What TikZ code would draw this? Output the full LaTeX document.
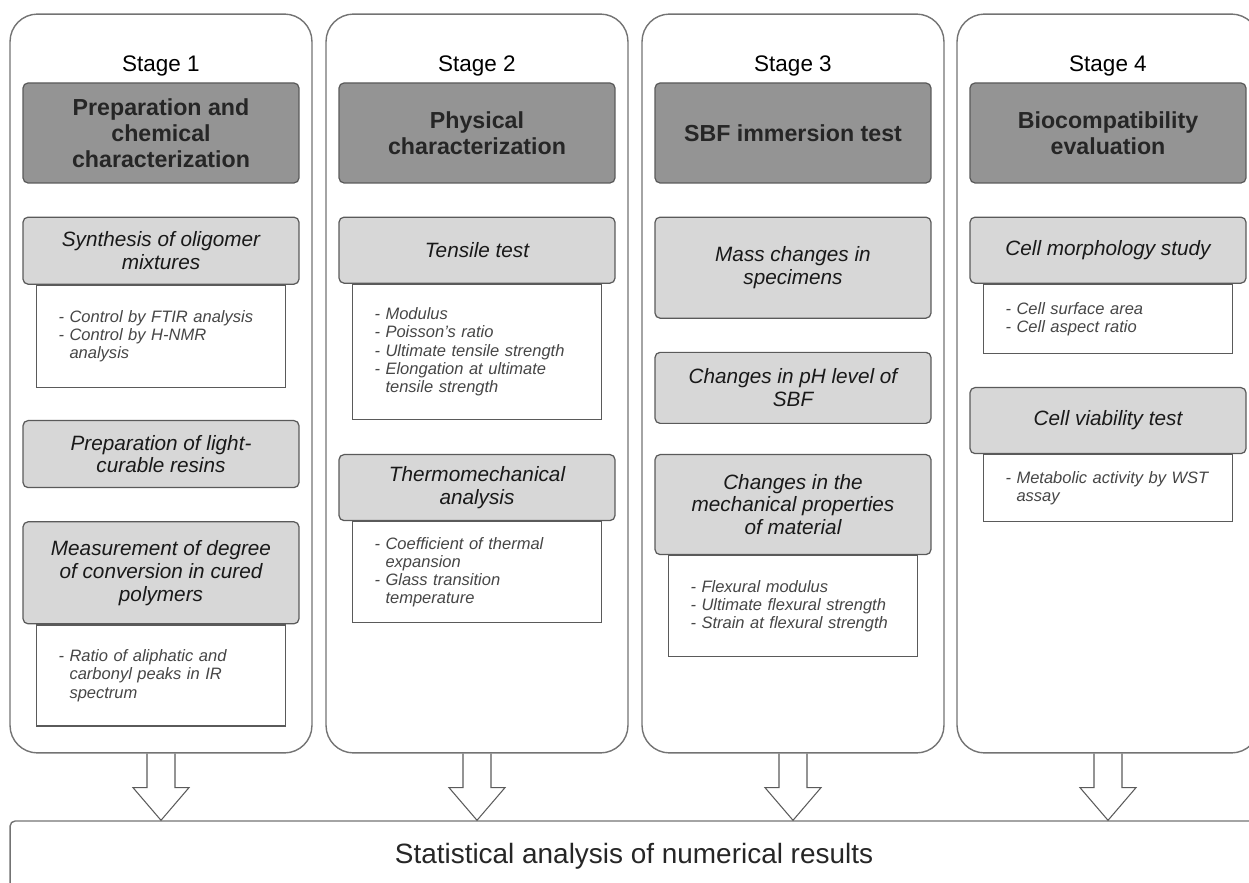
\documentclass[tikz,border=0pt]{standalone}
\usepackage{fontspec}
\setmainfont{Liberation Sans}
\usepackage{xcolor}
\usepackage{tikz}
\usetikzlibrary{positioning,calc}

\definecolor{headgray}{RGB}{148,148,148}
\definecolor{subgray}{RGB}{215,215,215}
\definecolor{linegray}{RGB}{90,90,90}
\definecolor{colgray}{RGB}{115,115,115}
\definecolor{notegray}{RGB}{70,70,70}

\begin{document}
\begin{tikzpicture}[
    x=0.02cm, y=-0.02cm,
    node distance=0.66cm,
    stagecol/.style={rectangle, draw=colgray, line width=0.8pt, rounded corners=0.55cm, minimum width=6.04cm, minimum height=14.78cm},
    stagelabel/.style={anchor=base, inner sep=0pt, font=\fontsize{12.8}{15}\selectfont},
    headbox/.style={rectangle, draw=linegray, line width=0.7pt, fill=headgray, rounded corners=0.1cm, minimum width=5.52cm, minimum height=2cm, align=center, text=black!85, font=\fontsize{13.2}{14.7}\selectfont\bfseries},
    testbox/.style={rectangle, draw=linegray, line width=0.7pt, fill=subgray, rounded corners=0.1cm, minimum width=5.52cm, minimum height=1.32cm, align=center, text=black!90, font=\fontsize{11.8}{13}\selectfont\itshape},
    notebox/.style={rectangle, draw=linegray, line width=0.7pt, fill=white, minimum width=4.98cm, text width=4.1cm, inner xsep=0.44cm, align=left, text=notegray, font=\fontsize{9.4}{10.4}\selectfont\itshape},
    statbox/.style={rectangle, draw=colgray, line width=0.8pt, rounded corners=0.1cm, minimum width=24.96cm, minimum height=1.4cm, text=black!85, font=\fontsize{15.9}{19}\selectfont},
    blockarrow/.style={draw=linegray, line width=0.6pt, line join=miter}
]
\useasboundingbox (0,0) rectangle (1249,883);
\clip (0,0) rectangle (1249,883);

% stage columns
\node[stagecol] (c1) at (161,383.5) {};
\node[stagecol] (c2) at (477,383.5) {};
\node[stagecol] (c3) at (793,383.5) {};
\node[stagecol] (c4) at (1108,383.5) {};

% stage 1
\node[headbox, below=1.38cm of c1.north] (h1) {Preparation and\\chemical\\characterization};
\node[stagelabel] (l1) at ($(h1.north)+(0,-11)$) {Stage 1};
\node[testbox, below=of h1, minimum height=1.34cm] (syn) {Synthesis of oligomer\\mixtures};
\node[notebox, below=0pt of syn, minimum height=2.04cm] (syn-n) {- Control by FTIR analysis\\- Control by H-NMR\\\phantom{- }analysis};
\node[testbox, below=0.64cm of syn-n, minimum height=1.34cm] (res) {Preparation of light-\\curable resins};
\node[testbox, below=of res, minimum height=2.04cm] (doc) {Measurement of degree\\of conversion in cured\\polymers};
\node[notebox, below=0pt of doc, minimum height=2.02cm] (doc-n) {- Ratio of aliphatic and\\\phantom{- }carbonyl peaks in IR\\\phantom{- }spectrum};

% stage 2
\node[headbox, below=1.38cm of c2.north] (h2) {Physical\\characterization};
\node[stagelabel] (l2) at ($(h2.north)+(0,-11)$) {Stage 2};
\node[testbox, below=of h2] (ten) {Tensile test};
\node[notebox, below=0pt of ten, minimum height=2.7cm] (ten-n) {- Modulus\\- Poisson's ratio\\- Ultimate tensile strength\\- Elongation at ultimate\\\phantom{- }tensile strength};
\node[testbox, below=0.68cm of ten-n] (tma) {Thermomechanical\\analysis};
\node[notebox, below=0pt of tma, minimum height=2.02cm] (tma-n) {- Coefficient of thermal\\\phantom{- }expansion\\- Glass transition\\\phantom{- }temperature};

% stage 3
\node[headbox, below=1.38cm of c3.north] (h3) {SBF immersion test};
\node[stagelabel] (l3) at ($(h3.north)+(0,-11)$) {Stage 3};
\node[testbox, below=of h3, minimum height=2.02cm] (mass) {Mass changes in\\specimens};
\node[testbox, below=of mass, minimum height=1.42cm] (ph) {Changes in pH level of\\SBF};
\node[testbox, below=0.6cm of ph, minimum height=2cm] (mech) {Changes in the\\mechanical properties\\of material};
\node[notebox, below=0pt of mech, minimum height=2.02cm] (mech-n) {- Flexural modulus\\- Ultimate flexural strength\\- Strain at flexural strength};

% stage 4
\node[headbox, below=1.38cm of c4.north] (h4) {Biocompatibility\\evaluation};
\node[stagelabel] (l4) at ($(h4.north)+(0,-11)$) {Stage 4};
\node[testbox, below=of h4] (morph) {Cell morphology study};
\node[notebox, below=0pt of morph, minimum height=1.38cm] (morph-n) {- Cell surface area\\- Cell aspect ratio};
\node[testbox, below=of morph-n] (via) {Cell viability test};
\node[notebox, below=0pt of via, minimum height=1.34cm] (via-n) {- Metabolic activity by WST\\\phantom{- }assay};

% statistics
\node[statbox] (stat) at (634,856) {Statistical analysis of numerical results};

% block arrows
\draw[blockarrow] ($(c1.south)+(-14,0)$) -- ++(0,34) -- ++(-14,0) -- (c1.south |- stat.north) -- ($(c1.south)+(28,34)$) -- ++(-14,0) -- ($(c1.south)+(14,0)$);
\draw[blockarrow] ($(c2.south)+(-14,0)$) -- ++(0,34) -- ++(-14,0) -- (c2.south |- stat.north) -- ($(c2.south)+(28,34)$) -- ++(-14,0) -- ($(c2.south)+(14,0)$);
\draw[blockarrow] ($(c3.south)+(-14,0)$) -- ++(0,34) -- ++(-14,0) -- (c3.south |- stat.north) -- ($(c3.south)+(28,34)$) -- ++(-14,0) -- ($(c3.south)+(14,0)$);
\draw[blockarrow] ($(c4.south)+(-14,0)$) -- ++(0,34) -- ++(-14,0) -- (c4.south |- stat.north) -- ($(c4.south)+(28,34)$) -- ++(-14,0) -- ($(c4.south)+(14,0)$);
\end{tikzpicture}
\end{document}
